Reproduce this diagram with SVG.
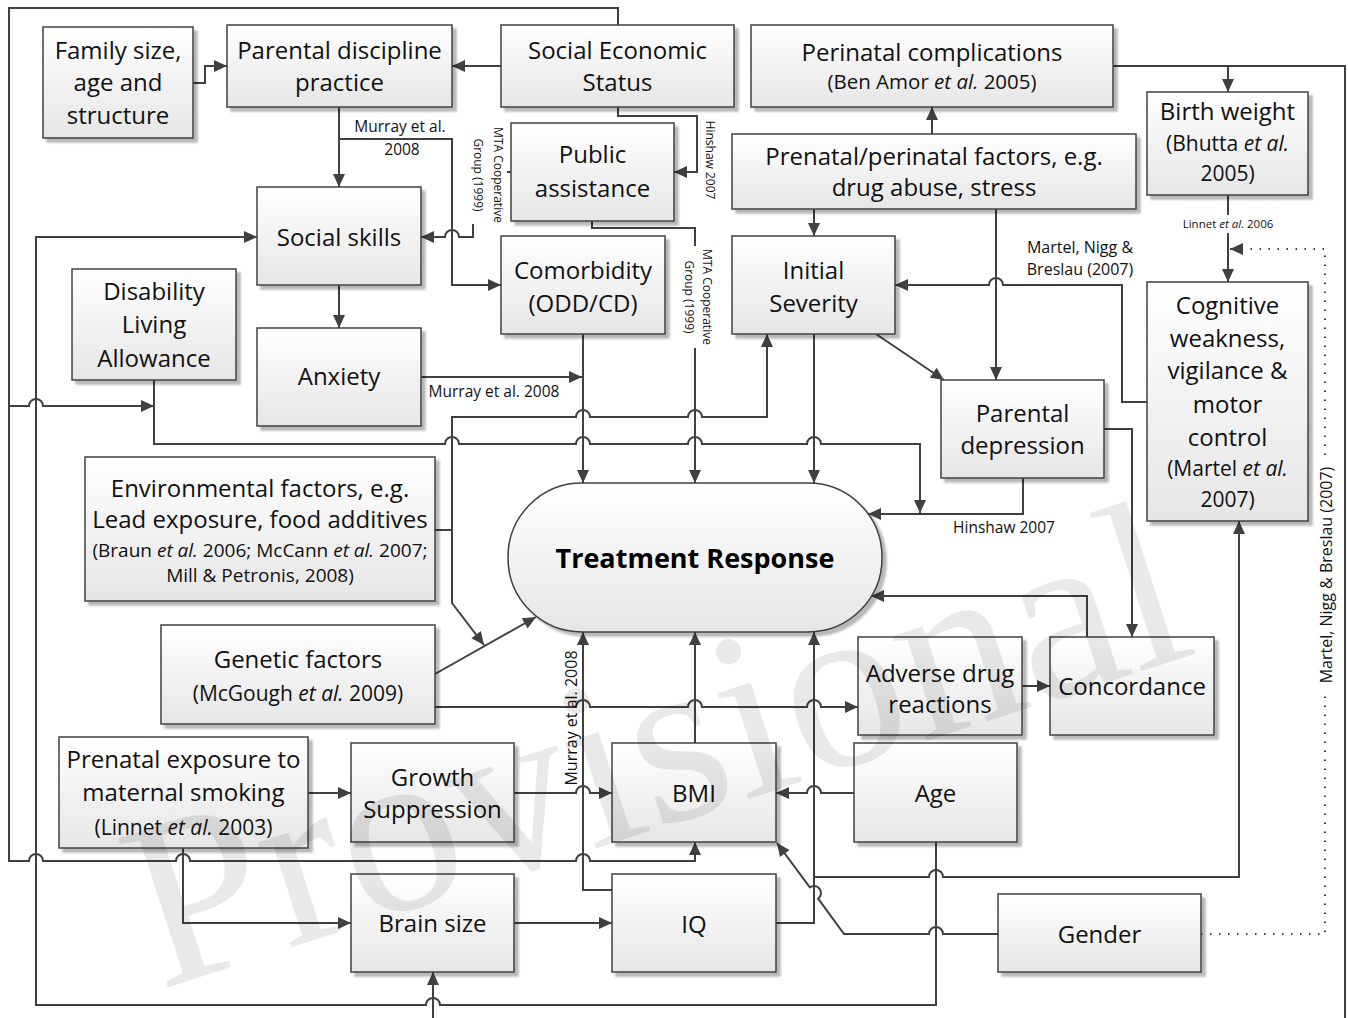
<svg xmlns="http://www.w3.org/2000/svg" width="1348" height="1018" viewBox="0 0 1348 1018">
<defs>
<linearGradient id="g" x1="0" y1="0" x2="0" y2="1">
<stop offset="0" stop-color="#ffffff"/><stop offset="1" stop-color="#e6e6e6"/>
</linearGradient>
<filter id="sh" x="-10%" y="-10%" width="130%" height="130%">
<feDropShadow dx="4" dy="4" stdDeviation="1.3" flood-color="#000" flood-opacity="0.28"/>
</filter>
<marker id="a" markerUnits="userSpaceOnUse" markerWidth="14" markerHeight="12" refX="13" refY="6" orient="auto" overflow="visible">
<path d="M0,0 L13,6 L0,12 z" fill="#404040"/>
</marker>
<style>
.box{fill:url(#g);stroke:#404040;stroke-width:1.5;filter:url(#sh)}
.t{font-family:"Open Sans","DejaVu Sans",sans-serif;font-size:24px;fill:#111;text-anchor:middle}
.c{font-size:19px}
.c21{font-size:21px}
.c20{font-size:20.5px}
.tr{font-size:27px;font-weight:bold;fill:#000}
.ln{fill:none;stroke:#404040;stroke-width:2}
.ar{marker-end:url(#a)}
.dot{stroke-dasharray:1.5 7.5}
.lb{font-family:"Open Sans","DejaVu Sans",sans-serif;font-size:15.5px;fill:#111;text-anchor:middle}
.l16{font-size:16px}
.sm{font-size:12px}
.xs{font-size:11.5px}
.bg{fill:#fff}
.it{font-style:italic}
</style>
</defs>
<rect width="1348" height="1018" fill="#fff"/>

<g id="connectors">
<path class="ln ar" d="M618,25 V8 H9 V861 H29 A7,7 0 0 1 43,861 H176 A7,7 0 0 1 190,861 H576 A7,7 0 0 1 590,861 H695 V842"/>
<path class="ln ar" d="M9,406 H29 A7,7 0 0 1 43,406 H154"/>
<path class="ln ar" d="M501,66 H452"/>
<path class="ln ar" d="M193,83 H205 V66 H227"/>
<path class="ln ar" d="M339,107 V187"/>
<path class="ln ar" d="M339,139 H452 V285 H501"/>
<path class="ln ar" d="M511,172 H473 V237 H459 A7,7 0 0 0 445,237 H421"/>
<path class="ln ar" d="M618,107 V116 H697 V172 H674"/>
<path class="ln ar" d="M592,221 V228 H695 V483"/>
<path class="ln ar" d="M583,334 V483"/>
<path class="ln ar" d="M421,377 H582"/>
<path class="ln ar" d="M339,285 V328"/>
<path class="ln ar" d="M814,334 V483"/>
<path class="ln ar" d="M814,209 V236"/>
<path class="ln ar" d="M932,134 V107"/>
<path class="ln ar" d="M996,209 V380"/>
<path class="ln ar" d="M1147,402 H1122 V285 H1003 A7,7 0 0 0 989,285 H895"/>
<path class="ln ar" d="M876,334 L944,380"/>
<path class="ln ar" d="M1023,478 V514 H868"/>
<path class="ln ar" d="M154,380 V444 H445 A7,7 0 0 1 459,444 H576 A7,7 0 0 1 590,444 H688 A7,7 0 0 1 702,444 H807 A7,7 0 0 1 821,444 H920 V513"/>
<path class="ln ar" d="M435,530 H452 V417 H576 A7,7 0 0 1 590,417 H688 A7,7 0 0 1 702,417 H767 V334"/>
<path class="ln ar" d="M452,530 V603 L484,645"/>
<path class="ln ar" d="M435,674 L536,617"/>
<path class="ln ar" d="M435,707 H576 A7,7 0 0 1 590,707 H688 A7,7 0 0 1 702,707 H807 A7,7 0 0 1 821,707 H858"/>
<path class="ln ar" d="M1022,686 H1050"/>
<path class="ln ar" d="M1087,637 V596 H871"/>
<path class="ln ar" d="M1104,429 H1132 V637"/>
<path class="ln ar" d="M1113,66 H1228 V92"/>
<path class="ln" d="M1228,66 H1345 V1020"/>
<path class="ln ar" d="M433,1020 V972"/>
<path class="ln ar" d="M936,842 V1005 H440 A7,7 0 0 0 426,1005 H36 V237 H257"/>
<path class="ln ar" d="M854,793 H821 A7,7 0 0 0 807,793 H776"/>
<path class="ln ar" d="M514,793 H576 A7,7 0 0 1 590,793 H612"/>
<path class="ln ar" d="M308,793 H351"/>
<path class="ln ar" d="M183,848 V923 H351"/>
<path class="ln ar" d="M514,923 H612"/>
<path class="ln ar" d="M612,890 H583 V632"/>
<path class="ln ar" d="M695,743 V632"/>
<path class="ln ar" d="M776,923 H814 V632"/>
<path class="ln ar" d="M814,877 H929 A7,7 0 0 1 943,877 H1239 V521"/>
<path class="ln ar" d="M998,934 H943 A7,7 0 0 0 929,934 H844 L818.2,898.6 A7,7 0 0 0 809.8,887.4 L777,843"/>
<path class="ln dot" d="M1201,934 H1325 V249 H1242"/>
<path class="ln ar" d="M1242,249 H1230"/>
<path class="ln ar" d="M1228,195 V282"/>
</g>

<g id="edge-labels">
<text class="lb" x="400" y="132">Murray et al.</text>
<text class="lb" x="402" y="155">2008</text>
<text class="lb" x="494" y="397">Murray et al. 2008</text>
<text class="lb l16" x="1080" y="253">Martel, Nigg &amp;</text>
<text class="lb l16" x="1080" y="275">Breslau (2007)</text>
<text class="lb" x="1004" y="533">Hinshaw 2007</text>
<rect class="bg" x="1176" y="215" width="104" height="18"/>
<text class="lb xs" x="1228" y="228">Linnet <tspan class="it">et al.</tspan> 2006</text>
<rect class="bg" x="468" y="123" width="39" height="101"/>
<g transform="translate(494,175) rotate(90)">
<text class="lb sm" x="0" y="0">MTA Cooperative</text>
<text class="lb sm" x="0" y="20">Group (1999)</text>
</g>
<rect class="bg" x="681" y="246" width="34" height="102"/>
<g transform="translate(703,297) rotate(90)">
<text class="lb sm" x="0" y="0">MTA Cooperative</text>
<text class="lb sm" x="0" y="18">Group (1999)</text>
</g>
<text class="lb sm" transform="translate(706,160) rotate(90)">Hinshaw 2007</text>
<text class="lb l16" transform="translate(577,718) rotate(-90)">Murray et al. 2008</text>
<rect class="bg" x="1315" y="459" width="22" height="232"/>
<text class="lb l16" transform="translate(1332,575) rotate(-90)">Martel, Nigg &amp; Breslau (2007)</text>
</g>

<g id="n-family"><rect class="box" x="43" y="27" width="150" height="111"/>
<text class="t" x="118" y="59">Family size,</text><text class="t" x="118" y="91">age and</text><text class="t" x="118" y="124">structure</text></g>
<g id="n-discipline"><rect class="box" x="227" y="25" width="225" height="82"/>
<text class="t" x="339.5" y="59">Parental discipline</text><text class="t" x="339.5" y="91">practice</text></g>
<g id="n-ses"><rect class="box" x="501" y="25" width="233" height="82"/>
<text class="t" x="617.5" y="59">Social Economic</text><text class="t" x="617.5" y="91">Status</text></g>
<g id="n-perinatal"><rect class="box" x="751" y="25" width="362" height="82"/>
<text class="t" x="932" y="61">Perinatal complications</text><text class="t c20" x="932" y="89">(Ben Amor <tspan class="it">et al.</tspan> 2005)</text></g>
<g id="n-birthweight"><rect class="box" x="1147" y="92" width="161" height="103"/>
<text class="t" x="1227.5" y="120">Birth weight</text><text class="t c21" x="1227.5" y="151">(Bhutta <tspan class="it">et al.</tspan></text><text class="t c21" x="1227.5" y="181">2005)</text></g>
<g id="n-prenatal"><rect class="box" x="732" y="134" width="404" height="75"/>
<text class="t" x="934" y="165">Prenatal/perinatal factors, e.g.</text><text class="t" x="934" y="196">drug abuse, stress</text></g>
<g id="n-public"><rect class="box" x="511" y="123" width="163" height="98"/>
<text class="t" x="592.5" y="163">Public</text><text class="t" x="592.5" y="197">assistance</text></g>
<g id="n-social"><rect class="box" x="257" y="187" width="164" height="98"/>
<text class="t" x="339" y="246">Social skills</text></g>
<g id="n-comorbidity"><rect class="box" x="501" y="236" width="164" height="98"/>
<text class="t" x="583" y="279">Comorbidity</text><text class="t" x="583" y="312">(ODD/CD)</text></g>
<g id="n-initial"><rect class="box" x="732" y="236" width="163" height="98"/>
<text class="t" x="813.5" y="279">Initial</text><text class="t" x="813.5" y="312">Severity</text></g>
<g id="n-cognitive"><rect class="box" x="1147" y="282" width="161" height="239"/>
<text class="t" x="1227.5" y="314">Cognitive</text><text class="t" x="1227.5" y="347">weakness,</text><text class="t" x="1227.5" y="379">vigilance &amp;</text><text class="t" x="1227.5" y="413">motor</text><text class="t" x="1227.5" y="446">control</text><text class="t c21" x="1227.5" y="476">(Martel <tspan class="it">et al.</tspan></text><text class="t c21" x="1227.5" y="507">2007)</text></g>
<g id="n-pdepression"><rect class="box" x="941" y="380" width="163" height="98"/>
<text class="t" x="1022.5" y="422">Parental</text><text class="t" x="1022.5" y="454">depression</text></g>
<g id="n-dla"><rect class="box" x="72" y="269" width="164" height="111"/>
<text class="t" x="154" y="300">Disability</text><text class="t" x="154" y="333">Living</text><text class="t" x="154" y="367">Allowance</text></g>
<g id="n-anxiety"><rect class="box" x="257" y="328" width="164" height="98"/>
<text class="t" x="339" y="385">Anxiety</text></g>
<g id="n-environment"><rect class="box" x="85" y="457" width="350" height="144"/>
<text class="t" x="260" y="497">Environmental factors, e.g.</text><text class="t" x="260" y="528">Lead exposure, food additives</text><text class="t c" x="260" y="557">(Braun <tspan class="it">et al.</tspan> 2006; McCann <tspan class="it">et al.</tspan> 2007;</text><text class="t c" x="260" y="582">Mill &amp; Petronis, 2008)</text></g>
<g id="n-genetic"><rect class="box" x="161" y="625" width="274" height="99"/>
<text class="t" x="298" y="668">Genetic factors</text><text class="t c21" x="298" y="701">(McGough <tspan class="it">et al.</tspan> 2009)</text></g>
<g id="n-smoking"><rect class="box" x="59" y="737" width="249" height="111"/>
<text class="t" x="183.5" y="768">Prenatal exposure to</text><text class="t" x="183.5" y="801">maternal smoking</text><text class="t c21" x="183.5" y="835">(Linnet <tspan class="it">et al.</tspan> 2003)</text></g>
<g id="n-growth"><rect class="box" x="351" y="743" width="163" height="99"/>
<text class="t" x="432.5" y="786">Growth</text><text class="t" x="432.5" y="818">Suppression</text></g>
<g id="n-brain"><rect class="box" x="351" y="874" width="163" height="98"/>
<text class="t" x="432.5" y="932">Brain size</text></g>
<g id="n-bmi"><rect class="box" x="612" y="743" width="164" height="99"/>
<text class="t" x="694" y="802">BMI</text></g>
<g id="n-iq"><rect class="box" x="612" y="874" width="164" height="98"/>
<text class="t" x="694" y="933">IQ</text></g>
<g id="n-adverse"><rect class="box" x="858" y="637" width="164" height="98"/>
<text class="t" x="940" y="682">Adverse drug</text><text class="t" x="940" y="713">reactions</text></g>
<g id="n-concordance"><rect class="box" x="1050" y="637" width="164" height="98"/>
<text class="t" x="1132" y="695">Concordance</text></g>
<g id="n-age"><rect class="box" x="854" y="743" width="163" height="99"/>
<text class="t" x="935.5" y="802">Age</text></g>
<g id="n-gender"><rect class="box" x="998" y="894" width="203" height="78"/>
<text class="t" x="1099.5" y="943">Gender</text></g>
<g id="n-treatment"><rect class="box" x="508" y="483" width="374" height="149" rx="74" ry="74"/>
<text class="t tr" x="695" y="568">Treatment Response</text></g>

<text id="watermark" x="0" y="0" transform="translate(160,990) rotate(-18)" font-family="'Liberation Serif',serif" font-size="240" fill="#000" fill-opacity="0.085">Provisional</text>
</svg>
